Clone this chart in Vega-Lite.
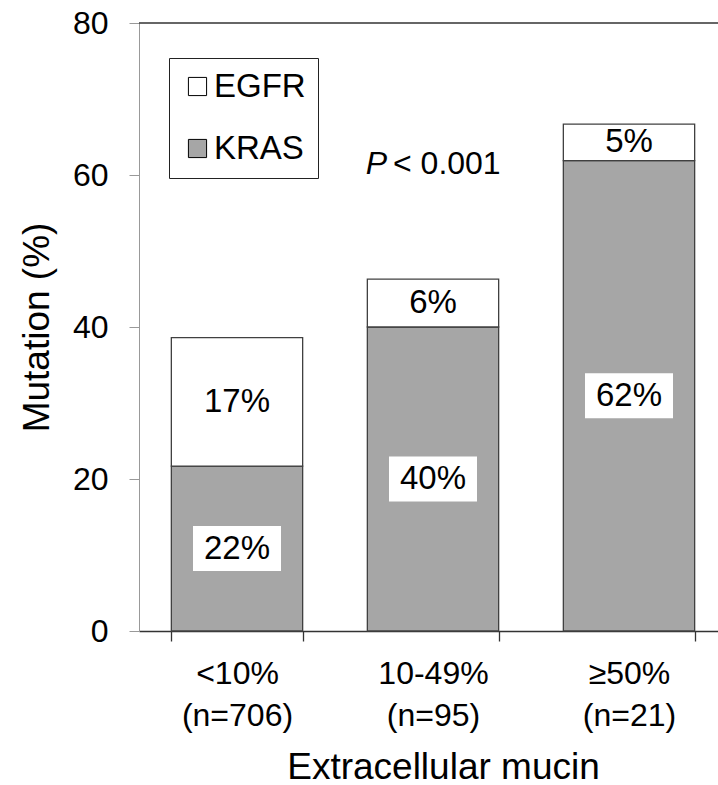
{
  "$schema": "https://vega.github.io/schema/vega-lite/v6.json",
  "width": 579,
  "height": 608,
  "autosize": {"type": "none"},
  "padding": {"left": 139, "top": 23, "right": 0, "bottom": 154},
  "background": "white",
  "config": {"view": {"stroke": null}, "font": "Liberation Sans"},
  "data": {"values": [
    {"mucin": "<10% (n=706)", "gene": "KRAS", "value": 21.7, "label": "22%"},
    {"mucin": "<10% (n=706)", "gene": "EGFR", "value": 16.9, "label": "17%"},
    {"mucin": "10-49% (n=95)", "gene": "KRAS", "value": 40.0, "label": "40%"},
    {"mucin": "10-49% (n=95)", "gene": "EGFR", "value": 6.3, "label": "6%"},
    {"mucin": "≥50% (n=21)", "gene": "KRAS", "value": 61.9, "label": "62%"},
    {"mucin": "≥50% (n=21)", "gene": "EGFR", "value": 4.8, "label": "5%"}
  ]},
  "layer": [
    {
      "mark": {"type": "bar", "stroke": "#404040", "strokeWidth": 1.3},
      "encoding": {
        "x": {
          "field": "mucin", "type": "nominal",
          "scale": {"domain": ["<10% (n=706)", "10-49% (n=95)", "≥50% (n=21)"], "range": [0, 588], "paddingInner": 0.33, "paddingOuter": 0.165},
          "axis": {
            "title": "Extracellular  mucin", "titleFontSize": 37, "titleFontWeight": "normal", "titleColor": "#000",
            "titleX": 304, "titleY": 147, "titleBaseline": "alphabetic", "titleAlign": "center",
            "labelAngle": 0, "labelFontSize": 32, "labelColor": "#000", "labelExpr": "split(datum.label, ' ')",
            "labelLineHeight": 42, "labelBaseline": "top", "labelPadding": 17, "labelOverlap": false,
            "tickBand": "extent", "tickSize": 10, "tickColor": "#333", "tickWidth": 1.3,
            "domainColor": "#333", "domainWidth": 1.3
          }
        },
        "y": {
          "field": "value", "type": "quantitative", "stack": "zero",
          "scale": {"domain": [0, 80], "nice": false},
          "axis": {
            "title": "Mutation  (%)", "titleFontSize": 37, "titleFontWeight": "normal", "titleColor": "#000",
            "titleX": -102, "titleY": 304, "titleAngle": -90, "titleBaseline": "middle", "titleAlign": "center",
            "values": [0, 20, 40, 60, 80], "labelFontSize": 32, "labelColor": "#000", "labelPadding": 21,
            "tickSize": 10, "tickColor": "#999", "domainColor": "#999", "grid": false
          }
        },
        "color": {
          "field": "gene", "type": "nominal",
          "scale": {"domain": ["EGFR", "KRAS"], "range": ["#ffffff", "#a6a6a6"]},
          "legend": {
            "orient": "none", "legendX": 30, "legendY": 35, "title": null,
            "strokeColor": "#222", "padding": 12,
            "symbolType": "square", "symbolSize": 330, "symbolStrokeColor": "#000", "symbolStrokeWidth": 1, "symbolOpacity": 1,
            "labelFontSize": 33, "labelFont": "Liberation Sans", "labelColor": "#000", "rowPadding": 28, "labelOffset": 0
          }
        },
        "order": {"field": "gene", "sort": "descending"}
      }
    },
    {
      "transform": [
        {"stack": "value", "groupby": ["mucin"], "sort": [{"field": "gene", "order": "descending"}], "as": ["v0", "v1"]},
        {"filter": "datum.gene == 'KRAS'"},
        {"fold": ["v0", "v1"], "as": ["end", "pos"]}
      ],
      "mark": {"type": "point", "shape": "M-1,-0.51H1V0.51H-1Z", "filled": true, "fill": "#ffffff", "opacity": 1, "strokeWidth": 0, "size": 7744},
      "encoding": {
        "x": {"field": "mucin", "type": "nominal"},
        "y": {"aggregate": "mean", "field": "pos", "type": "quantitative"},
        "detail": {"field": "gene"}
      }
    },
    {
      "transform": [
        {"stack": "value", "groupby": ["mucin"], "sort": [{"field": "gene", "order": "descending"}], "as": ["v0", "v1"]},
        {"fold": ["v0", "v1"], "as": ["end", "pos"]}
      ],
      "mark": {"type": "text", "fontSize": 33, "font": "Liberation Sans", "color": "#000", "baseline": "middle"},
      "encoding": {
        "x": {"field": "mucin", "type": "nominal"},
        "y": {"aggregate": "mean", "field": "pos", "type": "quantitative"},
        "detail": {"field": "gene"},
        "text": {"field": "label"}
      }
    },
    {
      "data": {"values": [{"t": "P"}]},
      "mark": {"type": "text", "fontSize": 32, "font": "Liberation Sans", "fontStyle": "italic", "color": "#000", "align": "right", "baseline": "middle", "dx": -46},
      "encoding": {"x": {"datum": "10-49% (n=95)"}, "y": {"datum": 61.4}, "text": {"field": "t"}}
    },
    {
      "data": {"values": [{"t": "< 0.001"}]},
      "mark": {"type": "text", "fontSize": 32, "font": "Liberation Sans", "color": "#000", "align": "left", "baseline": "middle", "dx": -40},
      "encoding": {"x": {"datum": "10-49% (n=95)"}, "y": {"datum": 61.4}, "text": {"field": "t"}}
    },
    {
      "data": {"values": [{}]},
      "mark": {"type": "rule", "color": "#333", "strokeWidth": 1.3},
      "encoding": {"y": {"datum": 80}}
    }
  ]
}
